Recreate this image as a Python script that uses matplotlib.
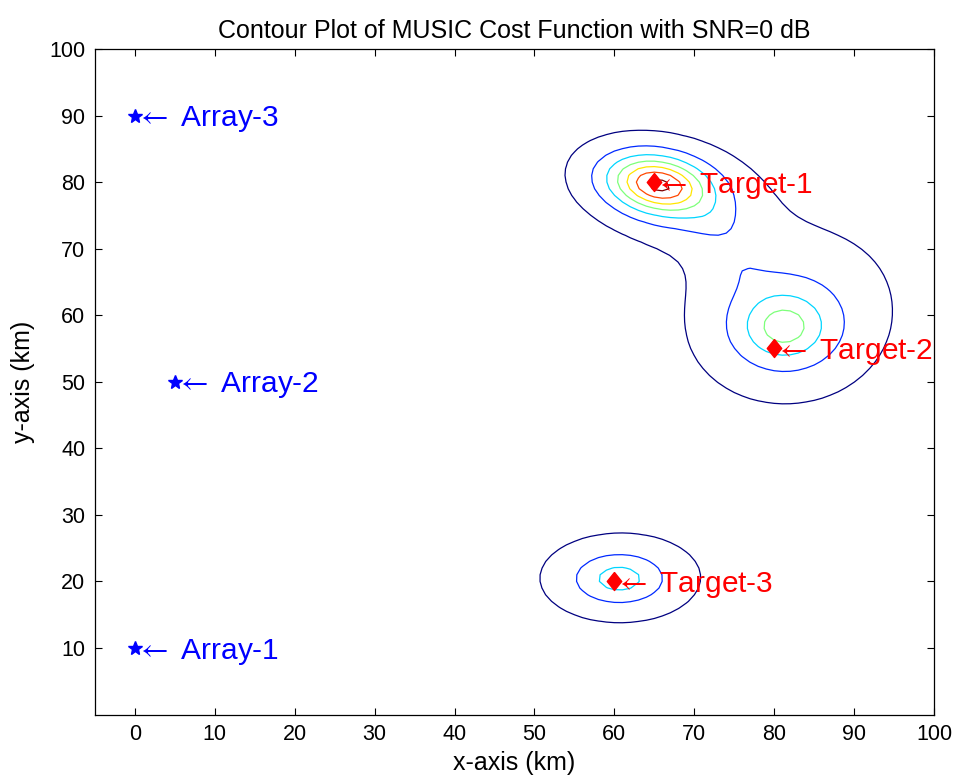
import numpy as np
import matplotlib
matplotlib.use("Agg")
import matplotlib.pyplot as plt

plt.rcParams["mathtext.fontset"] = "stix"

# Sensor arrays and targets (km)
array_x = [0, 5, 0]
array_y = [10, 50, 90]
array_labels = ["Array-1", "Array-2", "Array-3"]

target_x = [65, 80, 60]
target_y = [80, 55, 20]
target_labels = ["Target-1", "Target-2", "Target-3"]

# Lobes of the MUSIC cost surface: centre, height, spread, tilt and fall-off
# (three target peaks, a shoulder on each of targets 1 and 2, a broad bump)
peak_x = [65.5, 81.2, 60.6, 72.5, 76.0, 88.0]
peak_y = [79.6, 58.2, 20.4, 74.0, 67.0, 66.0]
peak_amp = [7.0, 4.3, 3.44, 0.6, 0.5, 0.45]
peak_sx = [8.6, 5.8, 6.0, 6.0, 4.0, 12.0]
peak_sy = [5.6, 5.5, 4.0, 4.5, 3.0, 12.0]
peak_tilt = [-15.0, 0.0, 0.0, -40.0, -54.0, 0.0]
peak_power = [2.0, 1.0, 1.0, 2.0, 1.0, 1.0]

contour_levels = [1, 2, 3, 4, 5, 6, 7]

xticks = list(range(0, 101, 10))
yticks = list(range(10, 101, 10))

# Cost surface on a 1 km grid
gx = np.arange(0, 101, 1.0)
gy = np.arange(0, 101, 1.0)
X, Y = np.meshgrid(gx, gy)
Z = np.zeros_like(X)
for cx, cy, a, sx, sy, t, p in zip(peak_x, peak_y, peak_amp, peak_sx, peak_sy,
                                   peak_tilt, peak_power):
    th = np.deg2rad(t)
    dx, dy = X - cx, Y - cy
    u = dx * np.cos(th) + dy * np.sin(th)
    v = -dx * np.sin(th) + dy * np.cos(th)
    Z += a / (1.0 + (u / sx) ** 2 + (v / sy) ** 2) ** p

sans = ["Liberation Sans", "DejaVu Sans"]

fig = plt.figure(figsize=(9.6, 7.78), dpi=100)
ax = fig.add_axes([95 / 960, 1 - 714.5 / 778, (934 - 95) / 960, (714.5 - 49) / 778])

ax.contour(X, Y, Z, levels=contour_levels, cmap="jet", linewidths=0.9)

ax.plot(array_x, array_y, linestyle="none", marker="*", color="blue", markersize=10)
diamond = [(0, 1), (0.8, 0), (0, -1), (-0.8, 0), (0, 1)]
ax.plot(target_x, target_y, linestyle="none", marker=diamond, color="red",
        markersize=13)

label_size = 21.5
for xs, ys, names, col in ((array_x, array_y, array_labels, "blue"),
                           (target_x, target_y, target_labels, "red")):
    for x, y, s in zip(xs, ys, names):
        ax.annotate(r"$\leftarrow$ " + s, xy=(x, y), xytext=(0.5, -0.358 * label_size),
                    textcoords="offset points", ha="left", va="baseline",
                    color=col, fontsize=label_size, family=sans)

ax.set_xlim(-5, 100)
ax.set_ylim(0, 100)
ax.set_xticks(xticks)
ax.set_yticks(yticks)
ax.tick_params(direction="in", length=5, width=0.8, top=True, right=True,
               labelsize=15.5, pad=7)
for lab in ax.get_xticklabels() + ax.get_yticklabels():
    lab.set_family(sans)
for sp in ax.spines.values():
    sp.set_linewidth(0.9)

ax.set_title("Contour Plot of MUSIC Cost Function with SNR=0 dB", fontsize=18,
             family=sans, pad=8)
ax.set_xlabel("x-axis (km)", fontsize=18, family=sans, labelpad=4)
ax.set_ylabel("y-axis (km)", fontsize=18, family=sans, labelpad=10)

fig.savefig("out.png", dpi=100)
